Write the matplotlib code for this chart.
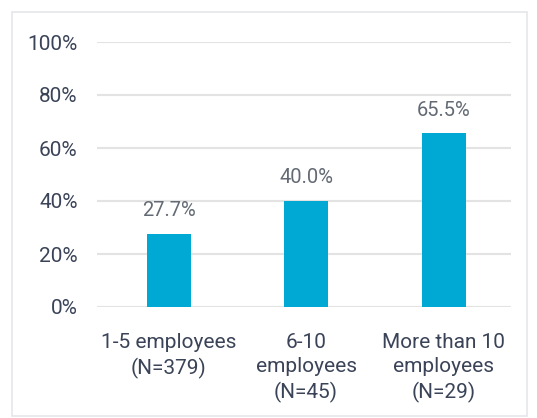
import matplotlib.pyplot as plt
from matplotlib.patches import Rectangle
import numpy as np

plt.rcParams['font.family'] = ['Roboto', 'DejaVu Sans']

# 직원 규모별 비율 데이터
categories = ["1-5 employees\n(N=379)", "6-10\nemployees\n(N=45)", "More than 10\nemployees\n(N=29)"]
values = [27.7, 40.0, 65.5]
yticks = [0, 20, 40, 60, 80, 100]

bar_color = "#00a9d3"
text_color = "#3a4357"

fig = plt.figure(figsize=(5.37, 4.18), dpi=100)
ax = fig.add_axes([97/537, 1 - 307/418, (511-97)/537, (307-42)/418])

x = np.arange(len(categories))
ax.bar(x, values, width=0.32, color=bar_color, zorder=3)

for xi, v in zip(x, values):
    ax.annotate(f"{v:.1f}%", (xi, v), xytext=(0, 10), textcoords="offset points",
                ha="center", va="bottom", fontsize=14.5, color="#636a73")

ax.set_ylim(0, 100)
ax.set_xlim(-0.52, 2.49)
ax.set_yticks(yticks)
ax.set_yticklabels([f"{t}%" for t in yticks], fontsize=15, color=text_color)
ax.set_xticks(x)
ax.set_xticklabels(categories, fontsize=15, color=text_color, linespacing=1.32)
ax.tick_params(axis="both", length=0)
ax.tick_params(axis="y", pad=14)
ax.tick_params(axis="x", pad=19)
ax.grid(axis="y", color="#e3e3e3", linewidth=1.5, zorder=0)
for s in ax.spines.values():
    s.set_visible(False)

# 바깥 테두리
fig.patches.append(Rectangle((12/537, 0.004), (527-12)/537, (416-12)/418,
                             transform=fig.transFigure, fill=False,
                             edgecolor="#e4e6ea", linewidth=1.2))

plt.savefig("out.png", dpi=100)
